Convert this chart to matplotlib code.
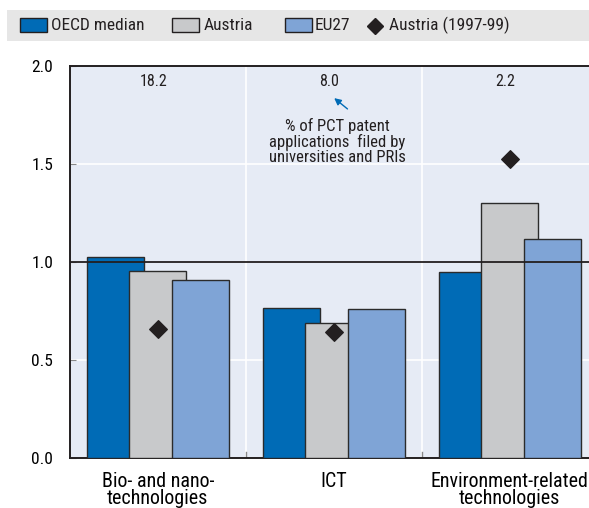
import matplotlib
matplotlib.use("Agg")
import matplotlib.pyplot as plt
from matplotlib import font_manager
from matplotlib.patches import Rectangle
import numpy as np

# pick a narrow sans (reference uses an Arial-Narrow-like face)
names = {f.name for f in font_manager.fontManager.ttflist}
prefs = ["Liberation Sans Narrow", "Nimbus Sans Narrow", "Arial Narrow", "Roboto Condensed",
         "Archivo Narrow", "Open Sans Condensed", "Noto Sans Condensed", "Asap Condensed",
         "Barlow Semi Condensed", "Liberation Sans"]
FONT = next(n for n in prefs if n in names or n == "Liberation Sans")
plt.rcParams["font.family"] = [FONT, "DejaVu Sans"]

categories = ["Bio- and nano-\ntechnologies", "ICT", "Environment-related\ntechnologies"]
oecd_median = [1.027, 0.764, 0.947]
austria = [0.953, 0.687, 1.30]
eu27 = [0.906, 0.762, 1.119]
austria_9799 = [0.658, 0.641, 1.524]
pct_share = ["18.2", "8.0", "2.2"]
legend_labels = ["OECD median", "Austria", "EU27", "Austria (1997-99)"]

C_OECD, C_AUT, C_EU = "#006BB6", "#C8C9CB", "#7FA4D6"
EDGE = "#2b2b2b"
INK = "#231f20"
BG = "#E6EBF5"

W, H = 589, 508
fig = plt.figure(figsize=(W / 100, H / 100), dpi=100)
ax = fig.add_axes([69.8 / W, 50 / H, 528 / W, 392 / H])
ax.set_facecolor(BG)

x = np.arange(len(categories))
off, w = 0.242, 0.324
for vals, dx, col in ((oecd_median, -off, C_OECD), (austria, 0, C_AUT), (eu27, off, C_EU)):
    ax.bar(x + dx, vals, width=w, color=col, edgecolor=EDGE, linewidth=1.0, zorder=3)
ax.scatter(x, austria_9799, marker="D", s=80, color=INK, zorder=5)
ax.axhline(1.0, color=INK, lw=1.3, zorder=4)

ax.set_xlim(-0.5, 2.5)
ax.set_ylim(0, 2.0)
ax.set_yticks([0, 0.5, 1.0, 1.5, 2.0])
ax.set_yticklabels(["0.0", "0.5", "1.0", "1.5", "2.0"], fontsize=12.5)
ax.set_xticks(x)
ax.set_xticklabels(categories, fontsize=14.4, linespacing=0.86)
ax.tick_params(axis="x", length=0, pad=10)
ax.tick_params(axis="y", length=4, direction="in", color="#888888", pad=12)
for yv in (0.5, 1.5):
    ax.axhline(yv, color="white", lw=1.2, zorder=1)
for xv in (0.5, 1.5):
    ax.axvline(xv, color="white", lw=1.2, zorder=1)
    ax.plot([xv, xv], [0, 0.03], color="#888888", lw=1, zorder=2)

for s in ("left", "bottom", "top"):
    ax.spines[s].set_color(INK)
    ax.spines[s].set_linewidth(1.4)
ax.spines["right"].set_visible(False)

for xi, t in zip(x, pct_share):
    ax.text(xi - 0.025, 1.92, t, ha="center", va="center", fontsize=11.5, color=INK, zorder=6)

ax.annotate("", xy=(0.99, 1.845), xytext=(1.09, 1.772),
            arrowprops=dict(arrowstyle="-|>", color="#006BB6", lw=1.0, mutation_scale=10))
ax.text(1.02, 1.735, "% of PCT patent\napplications  filed by\nuniversities and PRIs",
        ha="center", va="top", fontsize=12, linespacing=1.0, color=INK)

# legend band, drawn in figure pixels
def fx(px):
    return px / W

def fy(py):
    return 1 - py / H

fig.patches.append(Rectangle((fx(7), fy(41)), fx(582), 31 / H, transform=fig.transFigure,
                             facecolor="#E6E6E6", edgecolor="none"))
for px, col in ((20, C_OECD), (172, C_AUT), (285, C_EU)):
    fig.patches.append(Rectangle((fx(px), fy(32)), fx(27), 14 / H, transform=fig.transFigure,
                                 facecolor=col, edgecolor=INK, lw=1.0))
fig.lines.append(plt.Line2D([fx(375)], [fy(25.5)], marker="D", markersize=8, color=INK,
                            linestyle="none", transform=fig.transFigure))
for px, lab in zip((51, 204, 315, 389), legend_labels):
    fig.text(fx(px), fy(25.5), lab, ha="left", va="center", fontsize=12.5, color=INK)

fig.savefig("out.png", dpi=100)
